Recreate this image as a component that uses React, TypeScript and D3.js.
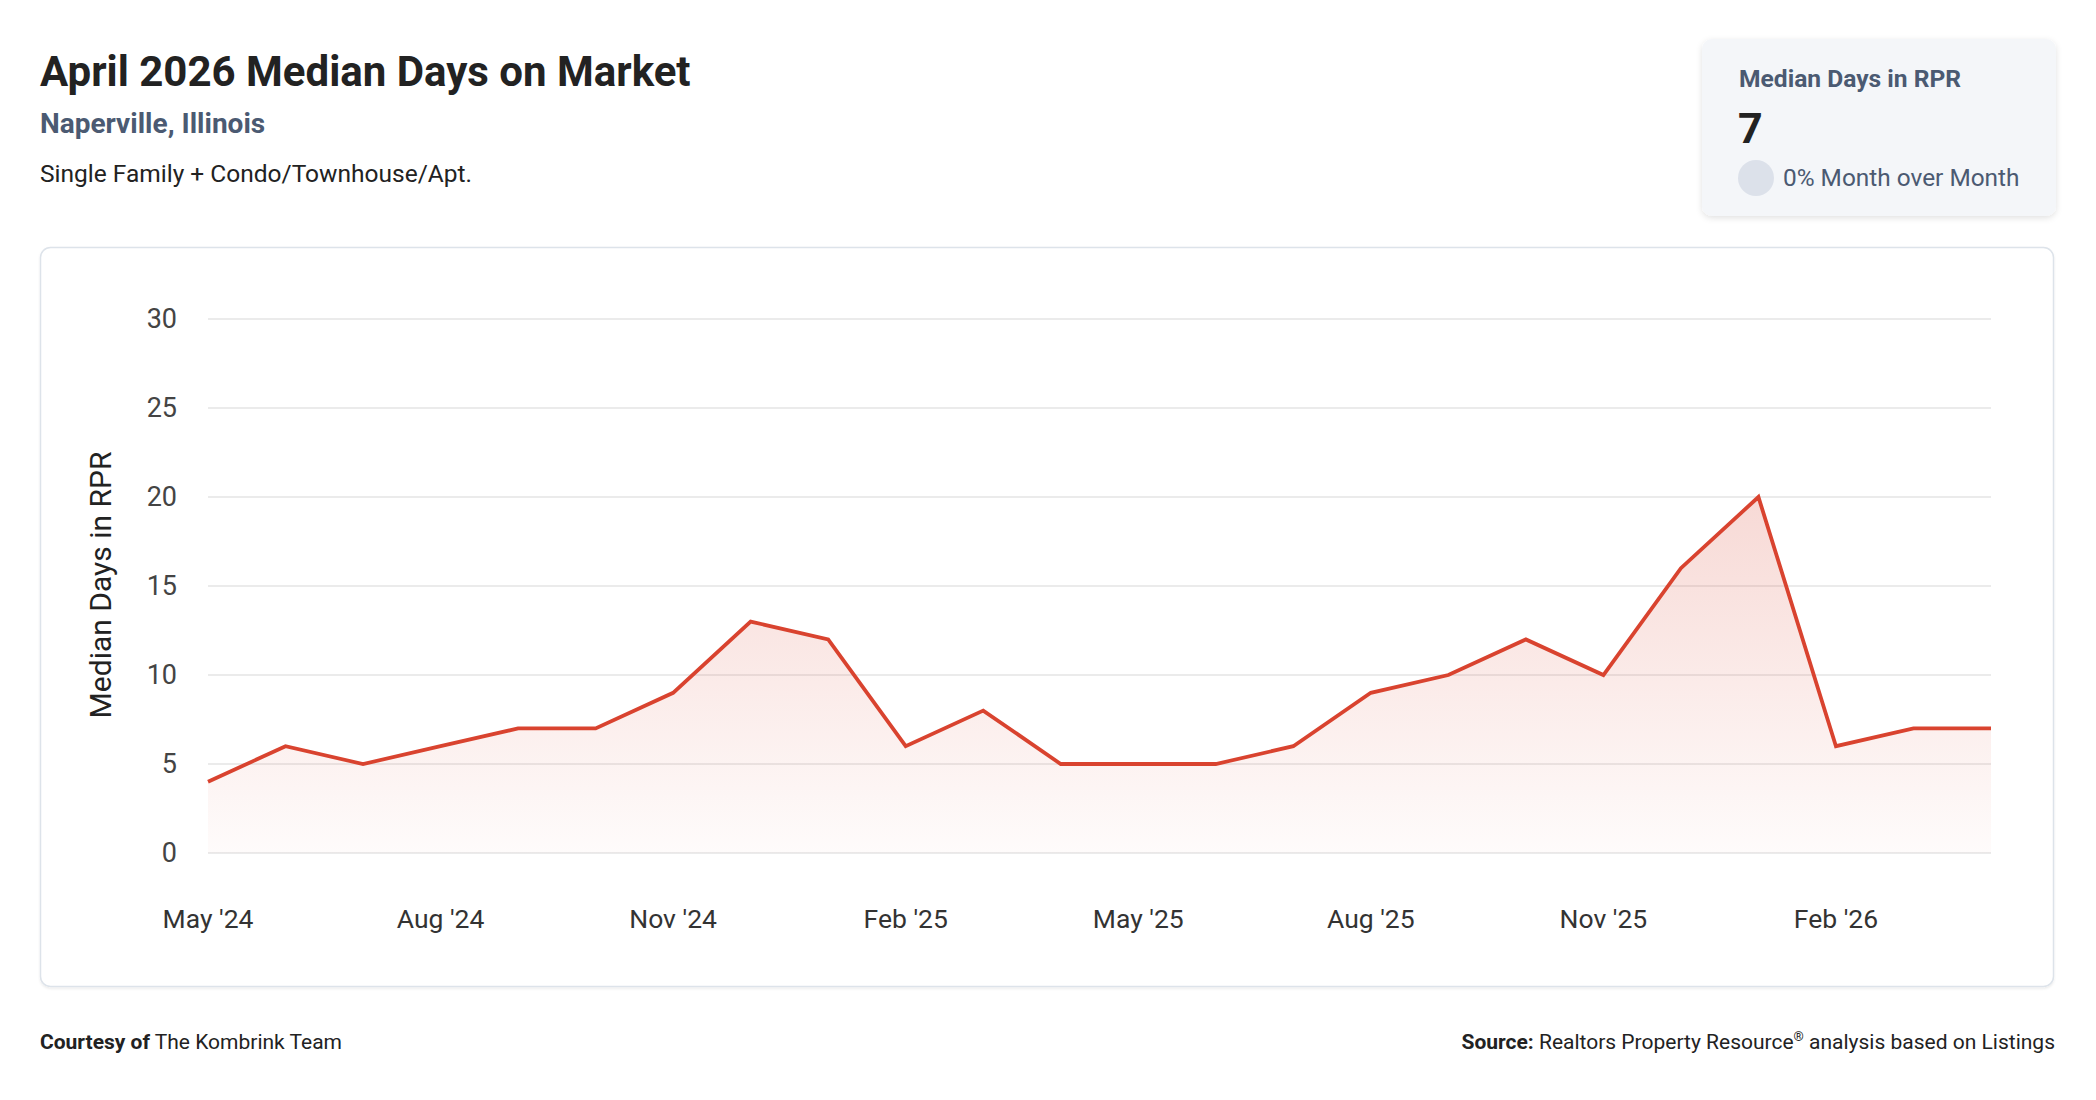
import React from "react";
import * as d3 from "d3";

// monthly median days in RPR, May '24 .. Apr '26
const months = [
  "2024-05", "2024-06", "2024-07", "2024-08", "2024-09", "2024-10",
  "2024-11", "2024-12", "2025-01", "2025-02", "2025-03", "2025-04",
  "2025-05", "2025-06", "2025-07", "2025-08", "2025-09", "2025-10",
  "2025-11", "2025-12", "2026-01", "2026-02", "2026-03", "2026-04",
];
const medianDays = [4, 6, 5, 6, 7, 7, 9, 13, 12, 6, 8, 5, 5, 5, 6, 9, 10, 12, 10, 16, 20, 6, 7, 7];
const yTicks = [0, 5, 10, 15, 20, 25, 30];
const xTickMonths = ["2024-05", "2024-08", "2024-11", "2025-02", "2025-05", "2025-08", "2025-11", "2026-02"];

const W = 2096;
const H = 1100;
const FONT = "Roboto, 'Noto Sans', sans-serif";
const LINE = "#d9432f";
const SLATE = "#4b5a72";

const parse = d3.timeParse("%Y-%m");
const fmt = d3.timeFormat("%b '%y");

export default function App() {
  const data = months.map((m, i) => ({ month: m, value: medianDays[i] }));

  // months are evenly spaced in the original, so a point scale
  const x = d3.scalePoint<string>().domain(months).range([208, 1991]);
  const y = d3.scaleLinear().domain([0, 30]).range([853, 319]);

  const line = d3
    .line<{ month: string; value: number }>()
    .x((d) => x(d.month) as number)
    .y((d) => y(d.value));
  const area = d3
    .area<{ month: string; value: number }>()
    .x((d) => x(d.month) as number)
    .y0(y(0))
    .y1((d) => y(d.value));

  return (
    <svg
      width={W}
      height={H}
      style={{ position: "absolute", left: 0, top: 0, background: "#fff" }}
      fontFamily={FONT}
    >
      <defs>
        <linearGradient id="areaFill" x1="0" y1="0" x2="0" y2="1">
          <stop offset="0%" stopColor={LINE} stopOpacity={0.2} />
          <stop offset="100%" stopColor={LINE} stopOpacity={0.02} />
        </linearGradient>
        <filter id="cardShadow" x="-10%" y="-10%" width="120%" height="130%">
          <feDropShadow dx="0" dy="2" stdDeviation="3" floodColor="#000" floodOpacity="0.12" />
        </filter>
        <filter id="panelShadow" x="-2%" y="-2%" width="104%" height="106%">
          <feDropShadow dx="0" dy="1.5" stdDeviation="1" floodColor="#000" floodOpacity="0.08" />
        </filter>
      </defs>

      {/* header */}
      <text x={40} y={86} fontSize={42} fontWeight={700} fill="#222">
        April 2026 Median Days on Market
      </text>
      <text x={40} y={133} fontSize={28} fontWeight={700} fill={SLATE}>
        Naperville, Illinois
      </text>
      <text x={40} y={182} fontSize={24.5} fill="#222">
        Single Family + Condo/Townhouse/Apt.
      </text>

      {/* stat card */}
      <rect x={1702} y={39} width={354} height={177} rx={10} fill="#f4f6f9" filter="url(#cardShadow)" />
      <text x={1739} y={87} fontSize={24.6} fontWeight={700} fill={SLATE}>
        Median Days in RPR
      </text>
      <text x={1738} y={143} fontSize={43} fontWeight={700} fill="#222">
        7
      </text>
      <circle cx={1756} cy={178} r={18} fill="#dce1ea" />
      <text x={1783} y={186} fontSize={24.4} fill={SLATE}>
        0% Month over Month
      </text>

      {/* chart panel */}
      <rect
        x={40.5}
        y={247.5}
        width={2013}
        height={739}
        rx={10}
        fill="#fff"
        stroke="#dde3ea"
        strokeWidth={1.5}
        filter="url(#panelShadow)"
      />

      {/* grid + y ticks */}
      {yTicks.map((t) => (
        <g key={t}>
          <line x1={208} x2={1991} y1={y(t)} y2={y(t)} stroke="#e4e4e4" strokeWidth={1.5} />
          <text x={177} y={y(t)} dy="0.35em" textAnchor="end" fontSize={27} fill="#444">
            {t}
          </text>
        </g>
      ))}

      <path d={area(data) ?? ""} fill="url(#areaFill)" />
      <path d={line(data) ?? ""} fill="none" stroke={LINE} strokeWidth={3.8} strokeLinejoin="miter" />

      {/* x ticks */}
      {xTickMonths.map((m) => (
        <text key={m} x={x(m)} y={928} textAnchor="middle" fontSize={26.5} fill="#333">
          {fmt(parse(m) as Date)}
        </text>
      ))}

      <text
        transform={`translate(111,585) rotate(-90)`}
        textAnchor="middle"
        fontSize={30}
        fill="#222"
      >
        Median Days in RPR
      </text>

      {/* footer */}
      <text x={40} y={1049} fontSize={21} fill="#222">
        <tspan fontWeight={700}>Courtesy of</tspan> The Kombrink Team
      </text>
      <text x={2055} y={1049} fontSize={21} fill="#222" textAnchor="end">
        <tspan fontWeight={700}>Source:</tspan> Realtors Property Resource
        <tspan fontSize={13} dy={-8}>®</tspan>
        <tspan dy={8}> analysis based on Listings</tspan>
      </text>
    </svg>
  );
}
